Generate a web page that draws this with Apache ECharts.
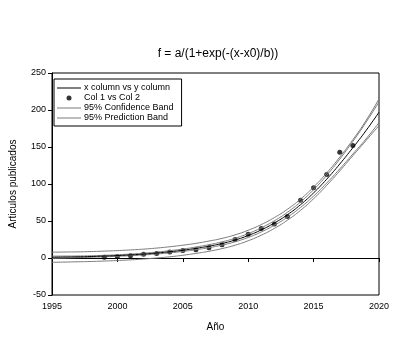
<!DOCTYPE html>
<html>
<head>
<meta charset="utf-8">
<script src="https://cdn.jsdelivr.net/npm/echarts@6/dist/echarts.min.js"></script>
<style>
html,body{margin:0;padding:0;background:#fff;}
#main{width:415px;height:362px;}
</style>
</head>
<body>
<div id="main"></div>
<script>
/*------------数据------------*/
var years = [1995,1996,1997,1998,1999,2000,2001,2002,2003,2004,2005,2006,2007,2008,2009,2010,2011,2012,2013,2014,2015,2016,2017,2018,2019,2020];
var fitVals = [1.0,1.3,1.6,2.0,2.6,3.3,4.2,5.3,6.7,8.4,10.5,13.0,16.0,19.6,24.3,30.4,38.0,47.3,58.5,72.0,88.0,106.5,127,149,172,197];
var confHi = [2.5,2.6,2.7,3.0,3.6,4.3,5.3,6.5,8.0,9.9,12.1,14.8,18.0,21.8,26.7,33.0,40.8,50.3,61.8,75.7,92.3,111.7,133.6,157.5,183.2,211];
var confLo = [-0.5,0,0.5,1.0,1.6,2.3,3.1,4.1,5.4,6.9,8.9,11.2,14.0,17.4,21.9,27.8,35.2,44.3,55.2,68.3,83.7,101.3,120.4,140.5,160.8,183];
var predHi = [7.8,8.1,8.3,8.7,9.3,10.0,10.9,12.0,13.4,15.2,17.3,19.8,22.9,26.5,31.3,37.5,45.2,54.6,65.9,79.6,95.9,114.9,136.3,159.8,185.5,215];
var predLo = [-5.8,-5.5,-5.1,-4.7,-4.1,-3.4,-2.5,-1.4,0,1.6,3.7,6.2,9.1,12.7,17.3,23.3,30.8,40.0,51.1,64.4,80.1,98.1,117.7,138.2,158.5,179];

var ptYears = [1999,2000,2001,2002,2003,2004,2005,2006,2007,2008,2009,2010,2011,2012,2013,2014,2015,2016,2017,2018];
var ptVals = [1,2,3,5,6,8,10,11,14,18,25,32,40,46,56,78,95,113,143,152];

function pair(xs, ys) {
	var res = [];
	xs.forEach(function(x, i) {
		res.push([x, ys[i]]);
	});
	return res;
}

var FONT = 'Liberation Sans';
var GRAY = '#7a7a7a';
var LINE_ICON = 'path://M0,0 L24,0 L24,1 L0,1 Z';

function bandLine(name, ys) {
	return {
		type: 'line',
		name: name,
		symbol: 'none',
		smooth: true,
		silent: true,
		lineStyle: {color: GRAY, width: 1},
		itemStyle: {color: GRAY},
		data: pair(years, ys)
	};
}

/*------------echarts设置------------*/
echarts.init(document.getElementById('main')).setOption({
	backgroundColor: '#fff',
	animation: false,
	title: {
		text: 'f = a/(1+exp(-(x-x0)/b))',
		left: 213,
		top: 43,
		textAlign: 'center',
		textStyle: {fontFamily: FONT, fontSize: 12, fontWeight: 'normal', color: '#000'}
	},
	legend: {
		orient: 'vertical',
		left: 54,
		top: 79,
		width: 134,
		padding: [4, 8, 3, 3],
		itemGap: 0,
		itemWidth: 24,
		itemHeight: 5,
		borderColor: '#000',
		borderWidth: 1,
		borderRadius: 0,
		textStyle: {fontFamily: FONT, fontSize: 9, color: '#000', padding: [0, 0, 0, -2], lineHeight: 10},
		data: [
			{name: 'x column vs y column', icon: LINE_ICON, itemStyle: {color: '#000'}},
			{name: 'Col 1 vs Col 2', icon: 'circle', itemStyle: {color: '#000'}},
			{name: '95% Confidence Band', icon: LINE_ICON, itemStyle: {color: GRAY}},
			{name: '95% Prediction Band', icon: LINE_ICON, itemStyle: {color: GRAY}}
		]
	},
	grid: {
		left: 47,
		right: 36,
		top: 73,
		bottom: 67,
		show: true,
		borderColor: '#000',
		borderWidth: 1
	},
	xAxis: {
		type: 'value',
		min: 1995,
		max: 2020,
		interval: 5,
		name: 'Año',
		nameLocation: 'middle',
		nameGap: 27,
		nameTextStyle: {fontFamily: FONT, fontSize: 10, color: '#000'},
		axisLine: {lineStyle: {color: '#000', width: 1}},
		axisTick: {show: true, length: 4, lineStyle: {color: '#000'}},
		axisLabel: {
			fontFamily: FONT, fontSize: 9, color: '#000', margin: 7,
			formatter: function(v) { return String(v); }
		},
		splitLine: {show: false}
	},
	yAxis: {
		type: 'value',
		min: -50,
		max: 250,
		interval: 50,
		name: 'Articulos publicados',
		nameLocation: 'middle',
		nameGap: 34,
		nameTextStyle: {fontFamily: FONT, fontSize: 10, color: '#000'},
		axisLine: {lineStyle: {color: '#000', width: 1}},
		axisTick: {show: true, length: 4, lineStyle: {color: '#000'}},
		axisLabel: {fontFamily: FONT, fontSize: 9, color: '#000', margin: 6},
		splitLine: {show: false}
	},
	series: [
		bandLine('95% Prediction Band', predHi),
		bandLine('95% Prediction Band', predLo),
		bandLine('95% Confidence Band', confHi),
		bandLine('95% Confidence Band', confLo),
		{
			type: 'line',
			name: 'x column vs y column',
			symbol: 'none',
			smooth: true,
			lineStyle: {color: '#000', width: 1},
			itemStyle: {color: '#000'},
			data: pair(years, fitVals)
		},
		{
			type: 'scatter',
			name: 'Col 1 vs Col 2',
			symbol: 'circle',
			symbolSize: 5,
			itemStyle: {color: '#000'},
			data: pair(ptYears, ptVals)
		}
	]
});
</script>
</body>
</html>
